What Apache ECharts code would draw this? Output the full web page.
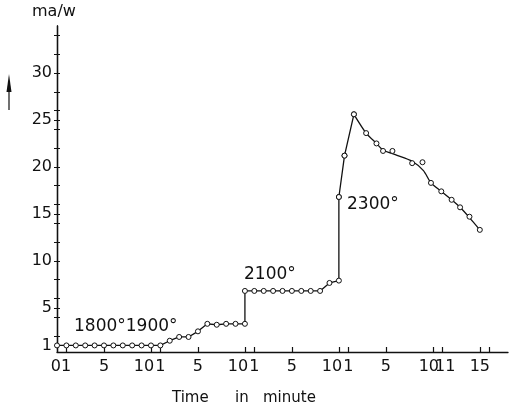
<!DOCTYPE html>
<html>
<head>
<meta charset="utf-8">
<script src="https://cdn.jsdelivr.net/npm/echarts@6/dist/echarts.min.js"></script>
<style>
html,body{margin:0;padding:0;background:#fff;}
#chart{width:510px;height:411px;}
</style>
</head>
<body>
<div id="chart"></div>
<script>
// ---- data (time in minutes, continuous across the temperature stages) ----
const timeLow = [0,1,2,3,4,5,6,7,8,9,10,11,12,13,14,15,16,17,18,19,20];
const valLow  = [1.0,1.0,1.0,1.0,1.0,1.0,1.0,1.0,1.0,1.0,1.0,1.0,1.5,1.9,1.9,2.5,3.3,3.2,3.3,3.3,3.3];
const time2100 = [20,21,22,23,24,25,26,27,28,29,30];
const val2100  = [6.8,6.8,6.8,6.8,6.8,6.8,6.8,6.8,6.8,7.65,7.9];
const time2300 = [30,30.6,31.6,32.9,34,34.7,35.7,37.8,38.9,39.8,40.9,42,42.9,43.9,45];
const val2300  = [16.8,21.2,25.6,23.6,22.5,21.7,21.7,20.4,20.5,18.3,17.4,16.5,15.7,14.7,13.3];
// hand-drawn curve through the 2300° points (from the peak onward)
const curveT = [31.6,32.9,34,34.7,36,37.8,39,39.8,40.9,42,42.9,43.9,45];
const curveV = [25.6,23.6,22.5,21.8,21.3,20.6,19.6,18.3,17.4,16.5,15.7,14.6,13.3];

// label at 0 carries the "0" and "1" of the first stage (printed together as "01")
const xLabelValues = [0,5,10,11,15,20,21,25,30,31,35,40,41,45];
const xLabelTexts  = ['01','5','10','1','5','10','1','5','10','1','5','10','11','15'];
const xTickValues  = [1,5,10,11,15,20,21,25,30,31,35,40,41,45,46];
const yLabelValues = [1,5,10,15,20,25,30];
const yTickValues  = [1,2,4,5,6,8,10,12,14,15,16,18,20,22,24,25,26,28,30,32,34];
const stageLabels  = ['1800°','1900°','2100°','2300°'];

const FONT = 'DejaVu Sans';
const INK = '#111';

const lowLine = timeLow.map((t,i)=>[t,valLow[i]])
  .concat(time2100.map((t,i)=>[t,val2100[i]]))
  .concat(time2300.slice(0,3).map((t,i)=>[t,val2300[i]]));
const curve = curveT.map((t,i)=>[t,curveV[i]]);
const pts2300 = time2300.map((t,i)=>[t,val2300[i]]);

const chart = echarts.init(document.getElementById('chart'), null, {renderer:'canvas'});

function yAxisBase(extra){
  return Object.assign({
    type:'value', min:0.3, max:35, position:'left',
    splitLine:{show:false},
    axisLine:{show:true, lineStyle:{color:INK, width:1.3}},
  }, extra);
}

const option = {
  animation:false,
  backgroundColor:'#fff',
  grid:{left:57, right:2, top:26, bottom:59, containLabel:false},
  xAxis:{
    type:'value', min:0, max:48,
    splitLine:{show:false},
    axisLine:{show:true, onZero:false, lineStyle:{color:INK, width:1.3}},
    axisTick:{show:true, inside:true, length:5, customValues:xTickValues, lineStyle:{color:INK, width:1.2}},
    axisLabel:{
      customValues:xLabelValues, showMinLabel:true, color:INK, fontFamily:FONT, fontSize:16, margin:7,
      formatter:function(v){
        const i = xLabelValues.indexOf(v);
        const s = i>=0 ? xLabelTexts[i] : '';
        if (v===0) return '{z|' + s + '}';
        if (v===10 || v===20 || v===30) return '{s|' + s + '}';
        if (v===40) return '{t|' + s + '}';
        if (v===41) return '{u|' + s + '}';
        return s;
      },
      rich:{
        z:{fontFamily:FONT, fontSize:16, color:INK, padding:[0,0,0,8]},
        s:{fontFamily:FONT, fontSize:16, color:INK, padding:[0,14,0,0]},
        t:{fontFamily:FONT, fontSize:16, color:INK, padding:[0,8,0,0]},
        u:{fontFamily:FONT, fontSize:16, color:INK, padding:[0,0,0,6]}
      }
    }
  },
  yAxis:[
    yAxisBase({
      axisTick:{show:true, inside:false, length:3, customValues:yTickValues, lineStyle:{color:INK, width:1}},
      axisLabel:{customValues:yLabelValues, color:INK, fontFamily:FONT, fontSize:16, margin:5}
    }),
    yAxisBase({
      axisTick:{show:true, inside:true, length:3, customValues:yTickValues, lineStyle:{color:INK, width:1}},
      axisLabel:{show:false}
    })
  ],
  series:[
    {
      type:'line', data:lowLine, showAllSymbol:true,
      symbol:'circle', symbolSize:5,
      lineStyle:{color:INK, width:1.3},
      itemStyle:{color:'#fff', borderColor:INK, borderWidth:1},
      z:3
    },
    {
      type:'line', data:curve, smooth:0.25, showSymbol:false,
      lineStyle:{color:INK, width:1.3}, z:2
    },
    {
      type:'scatter', data:pts2300, symbol:'circle', symbolSize:5,
      itemStyle:{color:'#fff', borderColor:INK, borderWidth:1, opacity:1}, z:4
    }
  ],
  graphic:[
    {type:'text', left:32, top:4, style:{text:'ma/w', font:'16px "DejaVu Sans"', fill:INK}},
    {type:'line', shape:{x1:9, y1:110, x2:9, y2:88}, style:{stroke:INK, lineWidth:1.2}},
    {type:'polygon', shape:{points:[[9,74],[11.5,92],[6.5,92]]}, style:{fill:INK}},
    {type:'text', left:74, top:318, style:{text:stageLabels[0]+stageLabels[1], font:'17px "DejaVu Sans"', fill:INK}},
    {type:'text', left:244, top:266, style:{text:stageLabels[2], font:'17px "DejaVu Sans"', fill:INK}},
    {type:'text', left:347, top:196, style:{text:stageLabels[3], font:'17px "DejaVu Sans"', fill:INK}},
    {type:'text', left:172, top:391, style:{text:'Time', font:'15px "DejaVu Sans"', fill:INK}},
    {type:'text', left:235, top:391, style:{text:'in', font:'15px "DejaVu Sans"', fill:INK}},
    {type:'text', left:263, top:391, style:{text:'minute', font:'15px "DejaVu Sans"', fill:INK}}
  ]
};
chart.setOption(option);
</script>
</body>
</html>
